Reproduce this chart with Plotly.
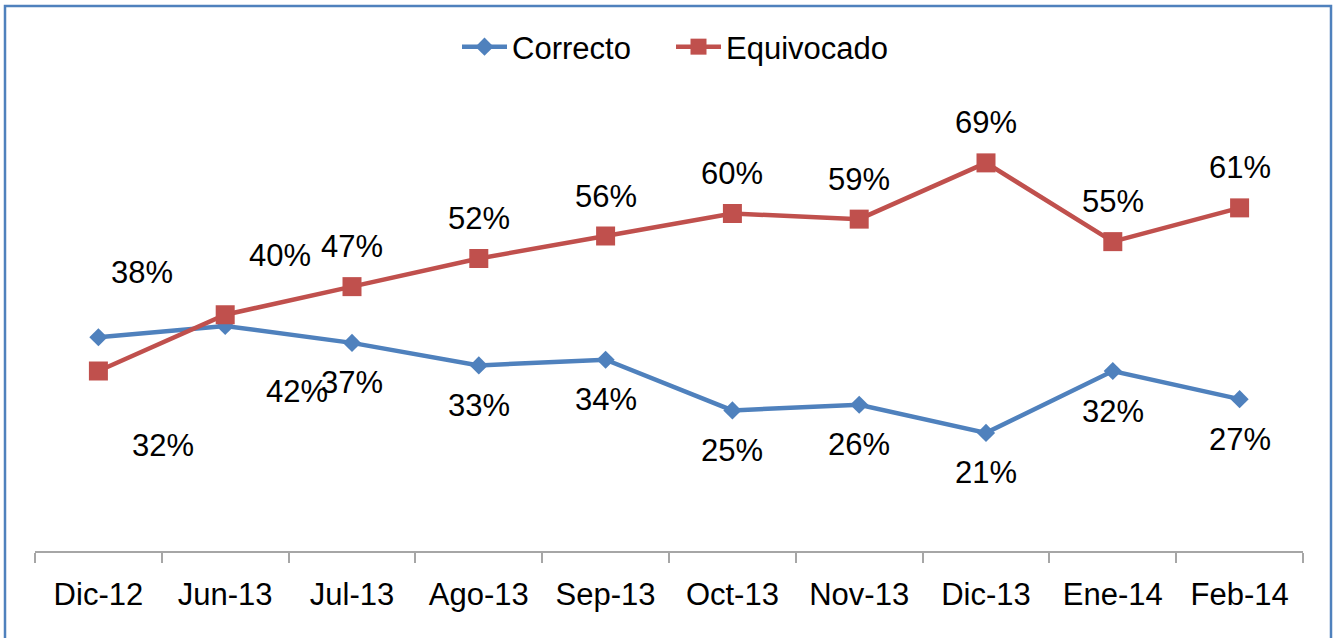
import plotly.graph_objects as go

categories = ["Dic-12", "Jun-13", "Jul-13", "Ago-13", "Sep-13", "Oct-13", "Nov-13", "Dic-13", "Ene-14", "Feb-14"]
correcto = [38, 40, 37, 33, 34, 25, 26, 21, 32, 27]
equivocado = [32, 42, 47, 52, 56, 60, 59, 69, 55, 61]

BLUE = "#4F81BD"
RED = "#C0504D"
FONT = "Liberation Sans, Arial, sans-serif"
FS = 31

fig = go.Figure()
fig.add_trace(go.Scatter(x=categories, y=correcto, name="Correcto", mode="lines+markers",
                         line=dict(color=BLUE, width=4.5),
                         marker=dict(symbol="diamond", size=14, color=BLUE), legend="legend"))
fig.add_trace(go.Scatter(x=categories, y=equivocado, name="Equivocado", mode="lines+markers",
                         line=dict(color=RED, width=4.5),
                         marker=dict(symbol="square", size=19, color=RED), legend="legend2"))

# label offsets (pixels): first two categories were moved manually in the original
blue_shift = [(44, 65), (55, 71)] + [(0, -40)] * 8
red_shift = [(65, -74), (72, -77)] + [(0, 40)] * 8

annotations = []
for i, c in enumerate(categories):
    dx, dy = blue_shift[i]
    annotations.append(dict(x=c, y=correcto[i], text=f"{correcto[i]}%", showarrow=False,
                            xshift=dx, yshift=dy, font=dict(size=FS, color="#000000", family=FONT)))
    dx, dy = red_shift[i]
    annotations.append(dict(x=c, y=equivocado[i], text=f"{equivocado[i]}%", showarrow=False,
                            xshift=dx, yshift=dy, font=dict(size=FS, color="#000000", family=FONT)))

legend_common = dict(orientation="h", xanchor="left", y=1 + (101 - 47) / 450, yanchor="middle",
                     font=dict(size=FS, family=FONT), itemwidth=45, bgcolor="rgba(0,0,0,0)")

fig.update_layout(
    width=1335, height=638,
    margin=dict(l=35, r=32, t=101, b=87),
    paper_bgcolor="white", plot_bgcolor="white",
    font=dict(family=FONT, size=FS, color="#000000"),
    showlegend=True,
    legend=dict(x=(457 - 35) / 1268, **legend_common),
    legend2=dict(x=(671 - 35) / 1268, **legend_common),
    annotations=annotations,
    shapes=[dict(type="rect", xref="paper", yref="paper",
                 x0=(5 - 35) / 1268, x1=(1331 - 35) / 1268,
                 y0=-0.2, y1=1 + (101 - 6) / 450,
                 line=dict(color=BLUE, width=2.5), fillcolor="rgba(0,0,0,0)", layer="below")],
)
fig.update_xaxes(type="category", showline=True, linecolor="#A6A6A6", linewidth=1.5,
                 ticks="outside", tickson="boundaries", ticklen=10, tickcolor="#A6A6A6", tickwidth=1.5,
                 ticklabelstandoff=15,
                 showgrid=False, zeroline=False, tickfont=dict(size=FS, family=FONT),
                 range=[-0.5, 9.5])
fig.update_yaxes(range=[0, 80], visible=False, showgrid=False, zeroline=False)

fig.write_html("out.html", config={"displayModeBar": False},
               post_script="document.body.style.margin='0';document.body.style.overflow='hidden';")
